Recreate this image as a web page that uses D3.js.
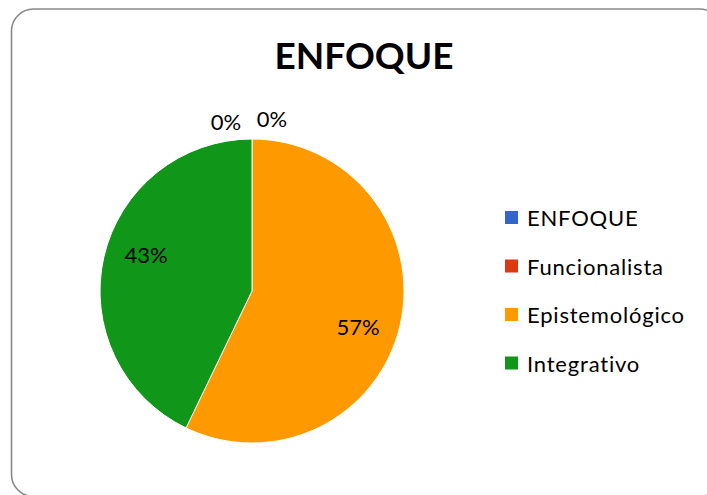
<!DOCTYPE html>
<html><head><meta charset="utf-8">
<script src="https://cdn.jsdelivr.net/npm/d3@7"></script>
<style>body{margin:0;background:#fff;}svg{display:block;font-family:Lato,"Noto Sans",sans-serif;font-variant-ligatures:none;}</style>
</head><body>
<svg id="c" width="707" height="495"></svg>
<script>
const categories = ["ENFOQUE", "Funcionalista", "Epistemológico", "Integrativo"];
const values = [0, 0, 4, 3];
const labels = ["0%", "0%", "57%", "43%"];
const colors = ["#3366CC", "#DC3912", "#FF9900", "#109618"];
const title = "ENFOQUE";

const svg = d3.select("#c");
svg.append("rect").attr("x", 11.5).attr("y", 9).attr("width", 710).attr("height", 487.5)
  .attr("rx", 22).attr("fill", "#fff").attr("stroke", "#888").attr("stroke-width", 1.6);

svg.append("text").attr("x", 364).attr("y", 69).attr("text-anchor", "middle")
  .attr("font-size", 37).attr("font-weight", "bold").attr("fill", "#000").text(title);

const cx = 252, cy = 291, r = 152;
const pie = d3.pie().sort(null).value(d => d)(values);
const arc = d3.arc().innerRadius(0).outerRadius(r);
const g = svg.append("g").attr("transform", `translate(${cx},${cy})`);
g.selectAll("path").data(pie).join("path")
  .attr("d", arc).attr("fill", (d, i) => colors[i])
  .attr("stroke", "#fff").attr("stroke-width", d => d.value > 0 ? 1 : 0);

// labels
const lr = 112, shift = 6 * Math.PI / 180;
let zi = 0;
pie.forEach((d, i) => {
  let x, y;
  if (d.value > 0) {
    const a = (d.startAngle + d.endAngle) / 2 + shift;
    x = Math.sin(a) * lr; y = -Math.cos(a) * lr + 8;
  } else { x = (zi === 0 ? -26 : 20); y = (zi === 0 ? -161 : -164); zi++; }
  g.append("text").attr("x", x).attr("y", y).attr("text-anchor", "middle")
    .attr("font-size", 22).attr("fill", "#000").text(labels[i]);
});

// legend
const lg = svg.append("g");
categories.forEach((c, i) => {
  const y = 218 + i * 48.5;
  lg.append("rect").attr("x", 505).attr("y", y - 7).attr("width", 13).attr("height", 13).attr("fill", colors[i]);
  lg.append("text").attr("x", 527).attr("y", y + 8).attr("font-size", 22)
    .attr("letter-spacing", 0.8).attr("fill", "#000").text(c);
});
</script>
</body></html>
